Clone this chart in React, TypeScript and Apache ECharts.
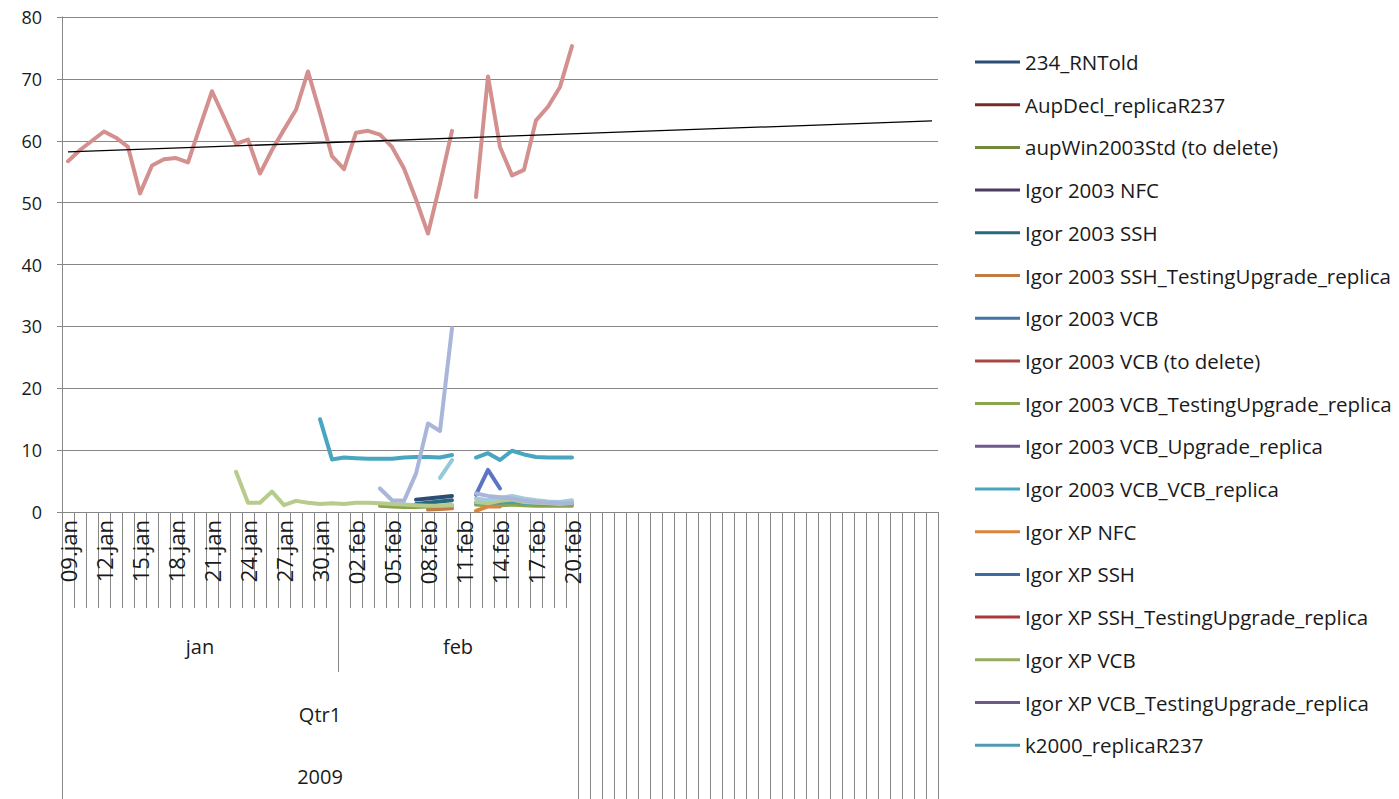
import React, { useEffect, useRef } from "react";
import * as echarts from "echarts";

// ---------- data ----------
const dateLabels = [
  "09.jan", "10.jan", "11.jan", "12.jan", "13.jan", "14.jan", "15.jan", "16.jan",
  "17.jan", "18.jan", "19.jan", "20.jan", "21.jan", "22.jan", "23.jan", "24.jan",
  "25.jan", "26.jan", "27.jan", "28.jan", "29.jan", "30.jan", "31.jan",
  "01.feb", "02.feb", "03.feb", "04.feb", "05.feb", "06.feb", "07.feb", "08.feb",
  "09.feb", "10.feb", "11.feb", "12.feb", "13.feb", "14.feb", "15.feb", "16.feb",
  "17.feb", "18.feb", "19.feb", "20.feb",
];
const blankCount = 30;
const monthNames = ["jan", "feb"];
const monthSpans = [23, 20];
const quarterNames = ["Qtr1"];
const yearNames = ["2009"];

const N = null;

// large pink series (entry below the visible part of the legend)
const pinkValues = [
  56.7, 58.5, 60.0, 61.5, 60.5, 59.0, 51.5, 56.0, 57.0, 57.2, 56.5, 62.3, 68.0, 63.8,
  59.5, 60.2, 54.7, 58.5, 61.8, 65.0, 71.2, 64.5, 57.5, 55.4, 61.3, 61.6, 61.0, 59.0,
  55.5, 50.5, 45.0, 53.0, 61.6, N, 50.9, 70.4, 59.0, 54.4, 55.3, 63.3, 65.5, 68.7, 75.3,
];
const trendStart = 58.2;
const trendEnd = 63.2;

const vcbVcbValues = [
  N, N, N, N, N, N, N, N, N, N, N, N, N, N, N, N, N, N, N, N, N,
  15.0, 8.5, 8.8, 8.7, 8.6, 8.6, 8.6, 8.8, 8.9, 8.9, 8.8, 9.2, N,
  8.8, 9.5, 8.4, 9.9, 9.3, 8.9, 8.8, 8.8, 8.8,
];
const paleGreenValues = [
  N, N, N, N, N, N, N, N, N, N, N, N, N, N,
  6.5, 1.5, 1.5, 3.3, 1.1, 1.8, 1.5, 1.3, 1.4, 1.3, 1.5, 1.5, 1.4, 1.3, 1.2, 1.1, 1.0, 1.0, 1.1, N,
  1.6, 1.4, 1.8, 2.0, 1.6, 1.5, 1.4, 1.3, 1.5,
];
const periwinkleValues = [
  N, N, N, N, N, N, N, N, N, N, N, N, N, N, N, N, N, N, N, N, N, N, N, N, N, N,
  3.8, 1.9, 1.8, 6.2, 14.3, 13.1, 29.7, N,
  3.0, 2.6, 2.4, 2.2, 1.8, 1.6, 1.5, 1.4, 1.4,
];
const rntOldValues = [
  N, N, N, N, N, N, N, N, N, N, N, N, N, N, N, N, N, N, N, N, N, N, N, N, N, N, N, N, N,
  2.0, 2.2, 2.4, 2.6,
];
const ssh2003Values = [
  N, N, N, N, N, N, N, N, N, N, N, N, N, N, N, N, N, N, N, N, N, N, N, N, N, N, N, N, N,
  1.3, 1.5, 1.7, 1.9,
];
const vcbTestingValues = [
  N, N, N, N, N, N, N, N, N, N, N, N, N, N, N, N, N, N, N, N, N, N, N, N, N, N,
  1.0, 0.9, 0.8, 0.8, 0.9, 1.0, 1.1, N,
  1.2, 1.1, 1.1, 1.2, 1.1, 1.0, 1.0, 1.0, 1.0,
];
const sshTestingValues = [
  N, N, N, N, N, N, N, N, N, N, N, N, N, N, N, N, N, N, N, N, N, N, N, N, N, N, N, N, N, N,
  0.4, 0.5, 0.6,
];
const xpNfcValues = [
  N, N, N, N, N, N, N, N, N, N, N, N, N, N, N, N, N, N, N, N, N, N, N, N, N, N, N, N, N, N, N, N, N, N,
  0.2, 0.9, 0.9,
];
const blueTriangleValues = [
  N, N, N, N, N, N, N, N, N, N, N, N, N, N, N, N, N, N, N, N, N, N, N, N, N, N, N, N, N, N, N, N, N, N,
  2.8, 6.8, 3.8,
];
const lightTealValues = [
  N, N, N, N, N, N, N, N, N, N, N, N, N, N, N, N, N, N, N, N, N, N, N, N, N, N, N, N, N, N, N,
  5.5, 8.4,
];
const lightBlueValues = [
  N, N, N, N, N, N, N, N, N, N, N, N, N, N, N, N, N, N, N, N, N, N, N, N, N, N, N, N, N, N, N, N, N, N,
  2.2, 1.9, 2.3, 2.6, 2.2, 1.9, 1.7, 1.6, 1.9,
];
const k2000Values = [
  N, N, N, N, N, N, N, N, N, N, N, N, N, N, N, N, N, N, N, N, N, N, N, N, N, N, N, N, N, N, N, N, N, N,
  1.5, 1.6, 1.5, 1.7, 1.5, 1.4, 1.3, 1.3, 1.4,
];

const legendNames = [
  "234_RNTold",
  "AupDecl_replicaR237",
  "aupWin2003Std (to delete)",
  "Igor 2003 NFC",
  "Igor 2003 SSH",
  "Igor 2003 SSH_TestingUpgrade_replica",
  "Igor 2003 VCB",
  "Igor 2003 VCB (to delete)",
  "Igor 2003 VCB_TestingUpgrade_replica",
  "Igor 2003 VCB_Upgrade_replica",
  "Igor 2003 VCB_VCB_replica",
  "Igor XP NFC",
  "Igor XP SSH",
  "Igor XP SSH_TestingUpgrade_replica",
  "Igor XP VCB",
  "Igor XP VCB_TestingUpgrade_replica",
  "k2000_replicaR237",
];
const legendColors = [
  "#2C4D75", "#772C2A", "#71893F", "#4D3B62", "#276A7C", "#C27B43",
  "#4572A7", "#AA4643", "#89A54E", "#71588F", "#48A6C0", "#DB843D",
  "#3D6AA5", "#A9393A", "#93AC5D", "#6B5A8A", "#4E9BAF",
];
const legendValues: (number | null)[][] = [
  rntOldValues, [], [], [], ssh2003Values, sshTestingValues,
  [], [], vcbTestingValues, [], vcbVcbValues, xpNfcValues,
  [], [], [], [], k2000Values,
];

// ---------- component ----------
export default function App() {
  const ref = useRef<HTMLDivElement>(null);

  useEffect(() => {
    if (!ref.current) return;
    const chart = echarts.init(ref.current, null, { renderer: "svg" });

    const total = dateLabels.length + blankCount;
    const categories = [
      ...dateLabels,
      ...Array.from({ length: blankCount }, (_, i) => `__blank${i}`),
    ];
    const gray = "#878787";
    const font = "'Open Sans', 'Noto Sans', sans-serif";
    const txt = "#1a1a1a";

    // month boundaries / centres derived from spans
    const monthBounds: number[] = [];
    const monthCenters: number[] = [];
    let acc = 0;
    monthSpans.forEach((s, i) => {
      monthCenters.push(acc + s / 2);
      acc += s;
      if (i < monthSpans.length - 1) monthBounds.push(acc);
    });
    const dataEnd = acc;
    const tallTicks = [0];
    for (let i = dataEnd; i <= total; i++) tallTicks.push(i);

    const trendData: (number | null)[] = categories.map((_, i) =>
      i === 0 ? trendStart : i === total - 1 ? trendEnd : null
    );

    const levelAxis = (offset: number, extra: any) => ({
      type: "value",
      gridIndex: 0,
      position: "bottom",
      min: 0,
      max: total,
      offset,
      axisLine: { show: false },
      splitLine: { show: false },
      axisTick: { show: false },
      axisLabel: { show: false },
      ...extra,
    });

    const series: any[] = [];
    legendNames.forEach((name, i) => {
      series.push({
        name,
        type: "line",
        data: legendValues[i],
        color: legendColors[i],
        showSymbol: false,
        symbol: "none",
        lineStyle: { width: 4, color: legendColors[i], join: "round", cap: "round" },
        z: 2,
      });
    });
    const hidden = [
      { name: "unlisted pale green", data: paleGreenValues, color: "#B7CC8C" },
      { name: "unlisted light blue", data: lightBlueValues, color: "#A6CADB" },
      { name: "unlisted light teal", data: lightTealValues, color: "#93C9DB" },
      { name: "unlisted blue", data: blueTriangleValues, color: "#5B74C6" },
      { name: "unlisted periwinkle", data: periwinkleValues, color: "#AAB5DA" },
      { name: "unlisted pink", data: pinkValues, color: "#D3908F" },
    ];
    hidden.forEach((h) =>
      series.push({
        name: h.name,
        type: "line",
        data: h.data,
        color: h.color,
        showSymbol: false,
        symbol: "none",
        lineStyle: { width: 4, color: h.color, join: "round", cap: "round" },
        z: 3,
      })
    );
    series.push({
      name: "trend",
      type: "line",
      data: trendData,
      connectNulls: true,
      showSymbol: false,
      symbol: "none",
      color: "#000",
      lineStyle: { width: 1.3, color: "#000" },
      z: 4,
    });

    chart.setOption({
      animation: false,
      backgroundColor: "#ffffff",
      textStyle: { fontFamily: font },
      grid: { left: 62, right: 461, top: 17, bottom: 287, containLabel: false },
      legend: {
        data: legendNames,
        orient: "vertical",
        left: 975,
        top: 50,
        padding: 0,
        icon: "rect",
        itemWidth: 45,
        itemHeight: 3,
        itemGap: 18.7,
        textStyle: { fontSize: 20.5, color: txt, fontFamily: font, lineHeight: 24 },
        selectedMode: false,
      },
      xAxis: [
        {
          type: "category",
          data: categories,
          boundaryGap: true,
          axisLine: { show: true, lineStyle: { color: gray, width: 1 } },
          axisTick: { show: true, interval: 0, length: 96, lineStyle: { color: gray, width: 1 } },
          axisLabel: {
            interval: 2,
            rotate: 90,
            margin: 8,
            fontSize: 22,
            color: txt,
            fontFamily: font,
            formatter: (v: string) => (v.startsWith("__blank") ? "" : v),
          },
          splitLine: { show: false },
        },
        levelAxis(0, {
          axisTick: {
            show: true,
            customValues: tallTicks,
            length: 287,
            lineStyle: { color: gray, width: 1 },
          },
        }),
        levelAxis(96, {
          axisTick: {
            show: true,
            customValues: monthBounds,
            length: 64,
            lineStyle: { color: gray, width: 1 },
          },
          axisLabel: {
            show: true,
            customValues: monthCenters,
            margin: 28,
            fontSize: 20,
            color: txt,
            fontFamily: font,
            formatter: (v: number) => monthNames[monthCenters.indexOf(v)] ?? "",
          },
        }),
        levelAxis(160, {
          axisLabel: {
            show: true,
            customValues: [dataEnd / 2],
            margin: 32,
            fontSize: 20,
            color: txt,
            fontFamily: font,
            formatter: () => quarterNames[0],
          },
        }),
        levelAxis(228, {
          axisLabel: {
            show: true,
            customValues: [dataEnd / 2],
            margin: 26,
            fontSize: 20,
            color: txt,
            fontFamily: font,
            formatter: () => yearNames[0],
          },
        }),
      ],
      yAxis: {
        type: "value",
        min: 0,
        max: 80,
        interval: 10,
        axisLine: { show: true, lineStyle: { color: gray, width: 1 } },
        axisTick: { show: true, length: 5, lineStyle: { color: gray } },
        axisLabel: { fontSize: 18, color: txt, margin: 20, fontFamily: font },
        splitLine: { show: true, lineStyle: { color: gray, width: 1 } },
      },
      series,
    });

    return () => chart.dispose();
  }, []);

  return (
    <div
      ref={ref}
      style={{ position: "fixed", left: 0, top: 0, width: 1399, height: 799 }}
    />
  );
}
